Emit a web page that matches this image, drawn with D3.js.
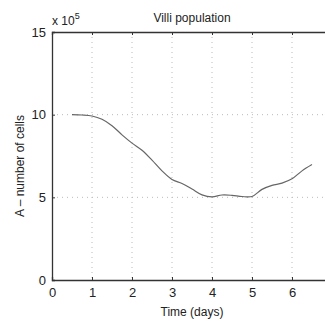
<!DOCTYPE html>
<html>
<head>
<meta charset="utf-8">
<script src="https://cdn.jsdelivr.net/npm/d3@7"></script>
<style>
  body { margin: 0; background: #fff; overflow: hidden; }
  text { font-family: "Liberation Sans", Arial, sans-serif; fill: #222; }
</style>
</head>
<body>
<div id="chart"></div>
<script>
// data (cells in units of 10^5)
var days = [0.5, 0.75, 1.0, 1.25, 1.5, 1.75, 2.0, 2.25, 2.5, 2.75, 3.0, 3.25, 3.5,
            3.75, 4.0, 4.25, 4.5, 4.75, 5.0, 5.25, 5.5, 5.75, 6.0, 6.25, 6.5];
var cells = [10.0, 9.98, 9.92, 9.72, 9.33, 8.78, 8.28, 7.85, 7.25, 6.6, 6.08, 5.84, 5.5,
             5.15, 5.03, 5.14, 5.12, 5.05, 5.05, 5.48, 5.72, 5.86, 6.12, 6.6, 6.98];
var xTicks = [0, 1, 2, 3, 4, 5, 6];
var yTicks = [0, 5, 10, 15];

var W = 325, H = 323;
var margin = {top: 32, left: 52, bottom: 43};
var plotW = 280, plotH = H - margin.top - margin.bottom;

var svg = d3.select("#chart").append("svg")
  .attr("width", W).attr("height", H);

var g = svg.append("g")
  .attr("transform", "translate(" + margin.left + "," + margin.top + ")");

var x = d3.scaleLinear().domain([0, 7]).range([0, plotW]);
var y = d3.scaleLinear().domain([0, 15]).range([plotH, 0]);

// dotted grid
g.selectAll(".vgrid").data(xTicks.slice(1))
  .enter().append("line")
  .attr("x1", function(d) { return x(d); }).attr("x2", function(d) { return x(d); })
  .attr("y1", 0).attr("y2", plotH)
  .attr("stroke", "#bbb").attr("stroke-width", 1)
  .attr("stroke-dasharray", "1,4");
g.selectAll(".hgrid").data([5, 10])
  .enter().append("line")
  .attr("x1", 0).attr("x2", plotW)
  .attr("y1", function(d) { return y(d); }).attr("y2", function(d) { return y(d); })
  .attr("stroke", "#bbb").attr("stroke-width", 1)
  .attr("stroke-dasharray", "1,4");

// axes
var xAxis = g.append("g")
  .attr("transform", "translate(0," + plotH + ")")
  .call(d3.axisBottom(x).tickValues(xTicks).tickSize(-3).tickPadding(8).tickFormat(d3.format("d")));
var yAxis = g.append("g")
  .call(d3.axisLeft(y).tickValues(yTicks).tickSize(-3).tickPadding(6).tickFormat(d3.format("d")));
g.append("g")
  .call(d3.axisTop(x).tickValues(xTicks).tickSize(-3).tickFormat(""));

[xAxis, yAxis].forEach(function(a) {
  a.selectAll("text").style("font-size", "13px").attr("fill", "#222");
});
g.selectAll(".domain").attr("stroke", "#333").attr("stroke-width", 1.3);
g.selectAll(".tick line").attr("stroke", "#333");

// curve
var line = d3.line()
  .x(function(d, i) { return x(days[i]); })
  .y(function(d) { return y(d); })
  .curve(d3.curveCatmullRom);
g.append("path")
  .datum(cells)
  .attr("d", line)
  .attr("fill", "none")
  .attr("stroke", "#666")
  .attr("stroke-width", 1.2);

// labels
svg.append("text")
  .attr("x", margin.left + plotW / 2).attr("y", 22)
  .attr("text-anchor", "middle")
  .style("font-size", "12px")
  .text("Villi population");

var exp = svg.append("text")
  .attr("x", margin.left).attr("y", 25)
  .style("font-size", "12px");
exp.append("tspan").text("x 10");
exp.append("tspan").attr("dy", -6).style("font-size", "9px").text("5");

svg.append("text")
  .attr("x", margin.left + plotW / 2).attr("y", 316)
  .attr("text-anchor", "middle")
  .style("font-size", "12px")
  .text("Time (days)");

svg.append("text")
  .attr("transform", "translate(24," + (margin.top + plotH / 2 + 10) + ") rotate(-90)")
  .attr("text-anchor", "middle")
  .style("font-size", "12px")
  .text("A \u2013 number of cells");
</script>
</body>
</html>
